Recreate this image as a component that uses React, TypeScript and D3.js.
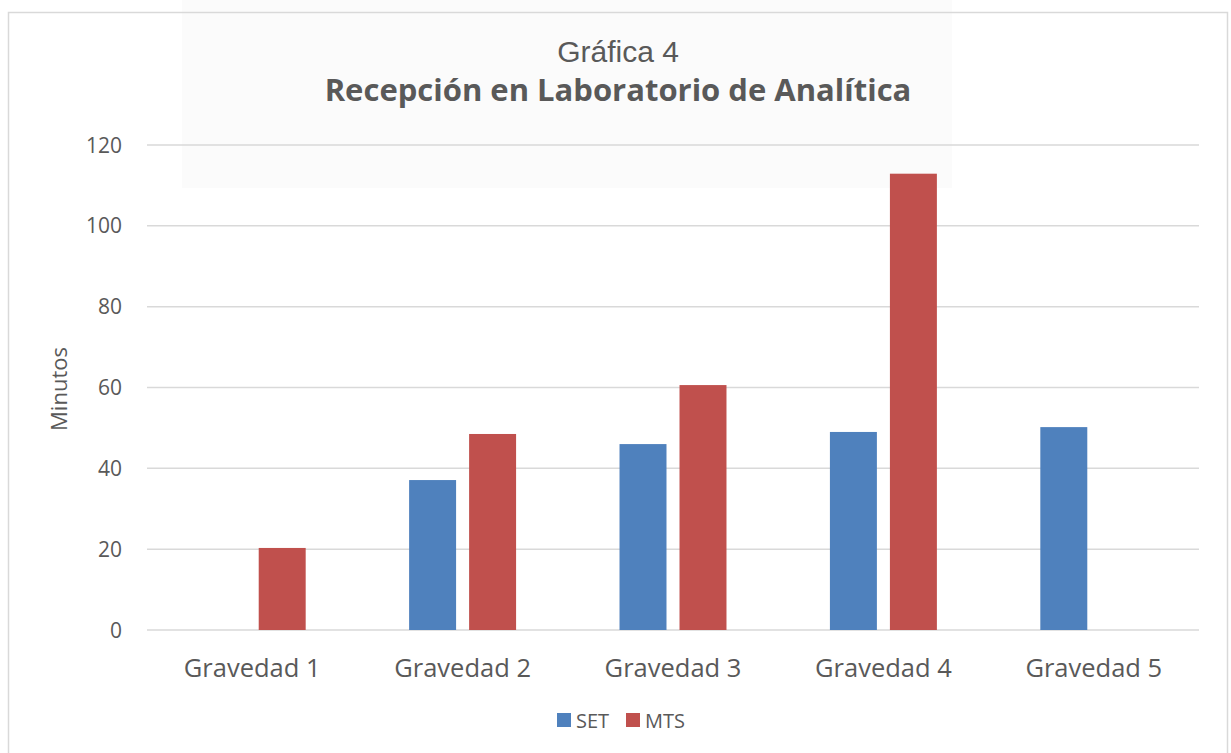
import React, { useEffect, useRef } from 'react';
import * as d3 from 'd3';

const categories = ['Gravedad 1', 'Gravedad 2', 'Gravedad 3', 'Gravedad 4', 'Gravedad 5'];
const seriesNames = ['SET', 'MTS'];
const setValues = [0, 37.1, 46.0, 49.0, 50.2];
const mtsValues = [20.3, 48.5, 60.6, 112.9, 0];
const yTicks = [0, 20, 40, 60, 80, 100, 120];
const colors = ['#4F81BD', '#C0504D'];

const W = 1231;
const H = 753;
const FONT = '"Open Sans", "Noto Sans", sans-serif';

export default function App() {
  const svgRef = useRef<SVGSVGElement | null>(null);

  useEffect(() => {
    const svg = d3.select(svgRef.current);
    svg.selectAll('*').remove();

    const left = 147;
    const right = 1199;
    const top = 145;
    const bottom = 630;

    // faint watermark panel behind the title
    svg.append('rect')
      .attr('x', 182).attr('y', 0).attr('width', 770).attr('height', 188)
      .attr('fill', '#fbfbfb');

    // chart frame
    svg.append('rect')
      .attr('x', 8.5).attr('y', 12.5).attr('width', 1219).attr('height', 760)
      .attr('fill', 'none').attr('stroke', '#d9d9d9').attr('stroke-width', 1.5);

    const x0 = d3.scaleBand<string>().domain(categories).range([left, right]);
    const x1 = d3.scaleBand<string>().domain(seriesNames).range([0, x0.bandwidth()]).paddingInner(0.217).paddingOuter(0.862);
    const y = d3.scaleLinear().domain([0, 120]).range([bottom, top]);

    // gridlines
    svg.append('g')
      .selectAll('line')
      .data(yTicks)
      .enter()
      .append('line')
      .attr('x1', left).attr('x2', right)
      .attr('y1', d => y(d)).attr('y2', d => y(d))
      .attr('stroke', '#d9d9d9').attr('stroke-width', 1.5);

    // y tick labels
    svg.append('g')
      .selectAll('text')
      .data(yTicks)
      .enter()
      .append('text')
      .attr('x', 122)
      .attr('y', d => y(d))
      .attr('dy', '0.36em')
      .attr('text-anchor', 'end')
      .attr('font-family', FONT).attr('font-size', 21)
      .attr('fill', '#595959')
      .text(d => d);

    // bars
    const data = categories.map((c, i) => ({ c, vals: [setValues[i], mtsValues[i]] }));
    const groups = svg.append('g')
      .selectAll('g')
      .data(data)
      .enter()
      .append('g')
      .attr('transform', d => `translate(${x0(d.c)},0)`);

    groups.selectAll('rect')
      .data(d => d.vals.map((v, k) => ({ v, k })).filter(e => e.v > 0))
      .enter()
      .append('rect')
      .attr('x', d => x1(seriesNames[d.k]) as number)
      .attr('y', d => y(d.v))
      .attr('width', x1.bandwidth())
      .attr('height', d => bottom - y(d.v))
      .attr('fill', d => colors[d.k]);

    // category labels
    svg.append('g')
      .selectAll('text')
      .data(categories)
      .enter()
      .append('text')
      .attr('x', d => (x0(d) as number) + x0.bandwidth() / 2)
      .attr('y', 677)
      .attr('text-anchor', 'middle')
      .attr('font-family', FONT).attr('font-size', 25.5)
      .attr('fill', '#595959')
      .text(d => d);

    // axis title
    svg.append('text')
      .attr('transform', 'translate(67,389) rotate(-90)')
      .attr('text-anchor', 'middle')
      .attr('font-family', FONT).attr('font-size', 22)
      .attr('fill', '#595959')
      .text('Minutos');

    // titles
    svg.append('text')
      .attr('x', 618).attr('y', 62)
      .attr('text-anchor', 'middle')
      .attr('font-family', '"Liberation Sans", Arial, sans-serif').attr('font-size', 30)
      .attr('fill', '#595959')
      .text('Gráfica 4');
    svg.append('text')
      .attr('x', 618).attr('y', 101)
      .attr('text-anchor', 'middle')
      .attr('font-family', FONT).attr('font-weight', 'bold').attr('font-size', 31)
      .attr('fill', '#595959')
      .text('Recepción en Laboratorio de Analítica');

    // legend
    const legendX = [557, 626];
    const lg = svg.append('g');
    seriesNames.forEach((name, i) => {
      lg.append('rect')
        .attr('x', legendX[i]).attr('y', 713).attr('width', 14).attr('height', 14)
        .attr('fill', colors[i]);
      lg.append('text')
        .attr('x', legendX[i] + 19).attr('y', 728)
        .attr('font-family', FONT).attr('font-size', 20)
        .attr('fill', '#595959')
        .text(name);
    });
  }, []);

  return (
    <svg
      ref={svgRef}
      width={W}
      height={H}
      style={{ position: 'absolute', left: 0, top: 0, background: '#fff' }}
    />
  );
}
